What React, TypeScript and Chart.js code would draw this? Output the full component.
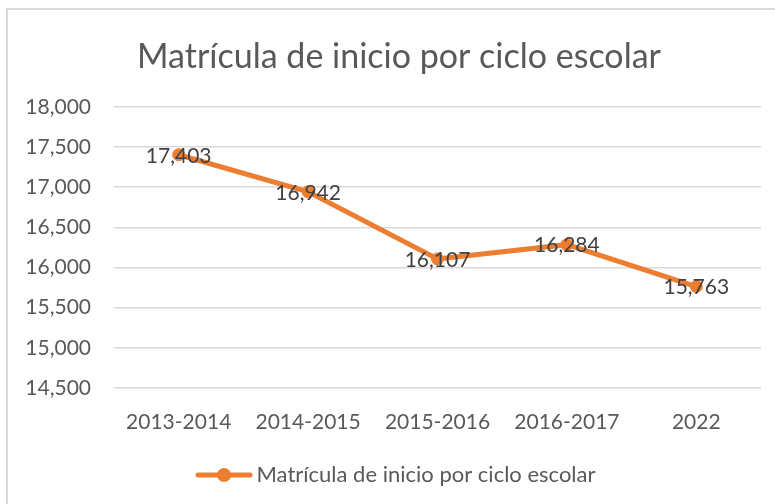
import React, { useEffect, useRef } from "react";
import { Chart, registerables } from "chart.js";

Chart.register(...registerables);

const categories = ["2013-2014", "2014-2015", "2015-2016", "2016-2017", "2022"];
const seriesName = "Matrícula de inicio por ciclo escolar";
const values = [17403, 16942, 16107, 16284, 15763];
const yMin = 14500;
const yMax = 18000;
const yStep = 500;

const ORANGE = "#ED7D31";
const FONT = "Lato, 'Noto Sans', sans-serif";

function makeLegendIcon(): HTMLCanvasElement {
  const c = document.createElement("canvas");
  c.width = 58;
  c.height = 16;
  const ctx = c.getContext("2d")!;
  ctx.strokeStyle = ORANGE;
  ctx.lineWidth = 5;
  ctx.lineCap = "round";
  ctx.beginPath();
  ctx.moveTo(3, 8);
  ctx.lineTo(55, 8);
  ctx.stroke();
  ctx.fillStyle = ORANGE;
  ctx.beginPath();
  ctx.arc(29, 8, 7, 0, Math.PI * 2);
  ctx.fill();
  return c;
}

const dataLabels = {
  id: "dataLabels",
  afterDatasetsDraw(chart: any) {
    const ctx = chart.ctx;
    const meta = chart.getDatasetMeta(0);
    const ds = chart.data.datasets[0];
    ctx.save();
    ctx.font = `21px ${FONT}`;
    ctx.fillStyle = "#404040";
    ctx.textAlign = "center";
    ctx.textBaseline = "middle";
    meta.data.forEach((pt: any, i: number) => {
      const v = ds.data[i] as number;
      ctx.fillText(v.toLocaleString("en-US"), pt.x, pt.y + 1);
    });
    ctx.restore();
  },
};

// let the y-axis labels extend into the left padding without being clipped
const widenYAxis = {
  id: "widenYAxis",
  afterLayout(chart: any) {
    const y = chart.scales.y;
    if (y) y.left = 10;
  },
};

export default function App() {
  const ref = useRef<HTMLCanvasElement>(null);

  useEffect(() => {
    if (!ref.current) return;
    const icon = makeLegendIcon();
    const chart = new Chart(ref.current, {
      type: "line",
      data: {
        labels: categories,
        datasets: [
          {
            label: seriesName,
            data: values,
            borderColor: ORANGE,
            backgroundColor: ORANGE,
            borderWidth: 5,
            pointRadius: 6,
            pointBorderWidth: 1,
            pointBackgroundColor: ORANGE,
            pointBorderColor: ORANGE,
            tension: 0,
          } as any,
        ],
      },
      options: {
        responsive: false,
        animation: false,
        locale: "en-US",
        layout: { padding: { left: 37, right: 14, top: 0, bottom: 8 } },
        elements: { point: { pointStyle: "circle" } },
        scales: {
          x: {
            offset: true,
            grid: { display: false, offset: true },
            border: { display: false },
            ticks: {
              color: "#595959",
              font: { family: FONT, size: 21 },
              padding: 14,
              maxRotation: 0,
            },
            afterFit(scale: any) {
              scale.height = 66;
            },
          },
          y: {
            min: yMin,
            max: yMax,
            grid: { color: "#d9d9d9", lineWidth: 1.5, drawTicks: false },
            border: { display: false },
            ticks: {
              stepSize: yStep,
              color: "#595959",
              font: { family: FONT, size: 21 },
              padding: 23,
            },
            afterFit(scale: any) {
              scale.width = 77;
            },
          },
        },
        plugins: {
          title: {
            display: true,
            text: seriesName,
            color: "#595959",
            font: { family: FONT, size: 34, weight: "normal" as any },
            padding: { top: 37, bottom: 29 },
          },
          legend: {
            display: true,
            position: "bottom",
            labels: {
              color: "#595959",
              font: { family: FONT, size: 22 },
              usePointStyle: true,
              pointStyleWidth: 43,
              padding: 10,
              generateLabels: () => [
                {
                  text: seriesName,
                  fillStyle: ORANGE,
                  strokeStyle: ORANGE,
                  fontColor: "#595959",
                  lineWidth: 0,
                  pointStyle: icon,
                  hidden: false,
                  datasetIndex: 0,
                },
              ],
            },
          },
          tooltip: { enabled: false },
        },
      },
      plugins: [dataLabels, widenYAxis],
    });
    return () => chart.destroy();
  }, []);

  return (
    <div
      style={{
        position: "absolute",
        left: 0,
        top: 0,
        width: 775,
        height: 504,
        overflow: "hidden",
        background: "#fff",
      }}
    >
      <div
        style={{
          position: "absolute",
          left: 6,
          top: 8,
          width: 900,
          height: 700,
          border: "2px solid #d9d9d9",
          boxSizing: "border-box",
        }}
      />
      <canvas
        ref={ref}
        width={775}
        height={504}
        style={{ position: "absolute", left: 0, top: 0 }}
      />
    </div>
  );
}
